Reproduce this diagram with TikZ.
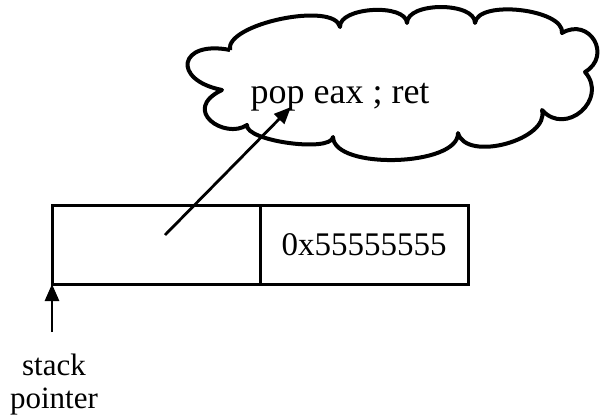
\documentclass[tikz,border=0pt]{standalone}
\usepackage{fontspec}
\setmainfont{Liberation Serif}
\usetikzlibrary{positioning,arrows.meta}

\begin{document}
\begin{tikzpicture}[x=1pt,y=-1pt,
  >={Triangle[length=17pt,width=14pt]},
  cell/.style={draw,line width=3pt,minimum width=208pt,minimum height=79pt,
               inner sep=0pt,outer sep=0pt,font=\fontsize{33}{38}\selectfont},
  ptr/.style={->,line width=2.8pt},
  puff/.style={line width=4pt,line join=round},
  lbl/.style={inner sep=0pt,align=center,font=\fontsize{31}{33}\selectfont},
]
\useasboundingbox (0,0) rectangle (601,417);

% the cloud
\draw[puff] (230,50) .. controls (224.5,23.9) and (334.5,0.9) .. (340,27)
  .. controls (338.8,7) and (405.8,3) .. (407,23)
  .. controls (407,1.7) and (475,1.7) .. (475,23)
  .. controls (477.7,-0.8) and (564.7,9.2) .. (562,33)
  .. controls (589.6,16.7) and (612.6,55.7) .. (585,72)
  .. controls (608.8,99) and (565.8,137) .. (542,110)
  .. controls (550.1,139.6) and (466.1,162.6) .. (458,133)
  .. controls (459.1,166.3) and (334.1,170.3) .. (333,137)
  .. controls (330.8,152.9) and (244.8,140.9) .. (247,125)
  .. controls (225,140) and (180,110) .. (222,90)
  .. controls (171,79.8) and (179,39.8) .. (230,50);
\node[inner sep=0pt,font=\fontsize{36}{43}\selectfont,anchor=base] (gadget) at (340,103) {pop eax ; ret};

% the stack
\node[cell,anchor=north west] (slot) at (52,205) {};
\node[cell,right=0pt of slot] (value) {0x55555555};

\coordinate (grab) at ([shift={(9,-9.5)}]slot.center);
\coordinate (hit) at (291,107);
\draw[ptr] (grab) -- (hit);

\node[lbl,anchor=north] (sp) at (54,354) {stack\\pointer};
\draw[ptr,shorten <=22pt] (sp.north -| slot.south west) -- (slot.south west);
\end{tikzpicture}
\end{document}
